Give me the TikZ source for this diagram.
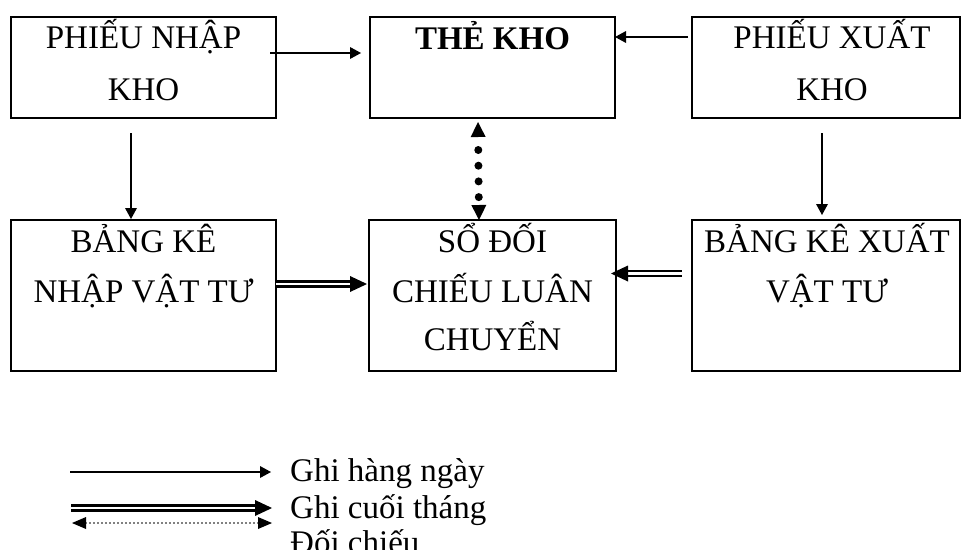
\documentclass[tikz,border=0pt]{standalone}
\usepackage{fontspec}
\setmainfont{Liberation Serif}
\usetikzlibrary{arrows.meta}
\begin{document}
\begin{tikzpicture}[x=1pt,y=-1pt,
  box/.style={draw, line width=2.6pt, rectangle, inner sep=0pt, outer sep=0pt, anchor=north west},
  txt/.style={anchor=base, inner sep=0pt, font=\fontsize{33}{40}\selectfont},
  legtxt/.style={anchor=base west, inner sep=0pt, font=\fontsize{33}{40}\selectfont},
  daily/.style={line width=2.4pt, -{Triangle[length=11pt,width=12pt,line width=0pt]}},
  monthly/.style={line width=2.5pt, double=white, double distance=2.6pt,
    -{Triangle[length=17pt,width=16pt,line width=0pt]}},
  check/.style={line width=8pt, line cap=round, dash pattern=on 0pt off 15.7pt, dash phase=2.7pt,
    {Triangle[length=15pt,width=15pt,line width=0pt]}-{Triangle[length=15pt,width=15pt,line width=0pt]}},
  checkleg/.style={line width=1.7pt, line cap=round, dash pattern=on 0pt off 4pt,
    {Triangle[length=14pt,width=12pt,line width=0pt]}-{Triangle[length=14pt,width=12pt,line width=0pt]}}
]
\useasboundingbox (0,0) rectangle (963,549);

% boxes
\node[box, minimum width=265pt, minimum height=101pt] (b1) at (11,17) {};
\node[box, minimum width=245pt, minimum height=101pt] (b2) at (370,17) {};
\node[box, minimum width=268pt, minimum height=101pt] (b3) at (692,17) {};
\node[box, minimum width=265pt, minimum height=151pt] (b4) at (11,220) {};
\node[box, minimum width=247pt, minimum height=151pt] (b5) at (369,220) {};
\node[box, minimum width=268pt, minimum height=151pt] (b6) at (692,220) {};

% box texts
\node[txt] (t1a) at (143.5,48) {PHIẾU NHẬP};
\node[txt] (t1b) at (143.5,100) {KHO};
\node[txt] (t2a) at (492.5,49) {\textbf{THẺ KHO}};
\node[txt] (t3a) at (832,48) {PHIẾU XUẤT};
\node[txt] (t3b) at (832,100) {KHO};
\node[txt] (t4a) at (143.5,252) {BẢNG KÊ};
\node[txt] (t4b) at (143.5,302) {NHẬP VẬT TƯ};
\node[txt] (t5a) at (492.5,252) {SỔ ĐỐI};
\node[txt] (t5b) at (492.5,302) {CHIẾU LUÂN};
\node[txt] (t5c) at (492.5,350) {CHUYỂN};
\node[txt] (t6a) at (827,252) {BẢNG KÊ XUẤT};
\node[txt] (t6b) at (827,302) {VẬT TƯ};

% daily entries
\draw[daily] ([xshift=-6pt,yshift=14.5pt]b1.east) -- ([xshift=-9pt,yshift=14.5pt]b2.west);
\draw[daily] ([xshift=-4pt,yshift=30.5pt]b3.west) -- ([yshift=30.5pt]b2.east);
\draw[daily] ([xshift=-12.5pt,yshift=-15pt]b1.south) -- ([xshift=-12.5pt,yshift=1pt]b4.north);
\draw[daily] ([xshift=-4pt,yshift=-15pt]b3.south) -- ([xshift=-4pt,yshift=5pt]b6.north);

% month-end entries
\draw[monthly] ([yshift=11.5pt]b4.east) -- ([xshift=-2pt,yshift=11.5pt]b4.east -| b5.west);
\draw[monthly] ([xshift=-10pt,yshift=22pt]b6.west) -- ([xshift=-5pt,yshift=22pt]b6.west -| b5.east);

% cross-check
\draw[check] ([xshift=-14.5pt,yshift=-4pt]b2.south) -- ([xshift=-13.5pt,yshift=0pt]b5.north);

% legend
\coordinate (l1a) at (70,472);  \coordinate (l1b) at (271,472);
\coordinate (l2a) at (71,508);  \coordinate (l2b) at (272,508);
\coordinate (l3a) at (72,523);  \coordinate (l3b) at (272,523);
\draw[daily] (l1a) -- (l1b);
\draw[monthly] (l2a) -- (l2b);
\draw[checkleg] (l3a) -- (l3b);
\node[legtxt] (g1) at (290,481) {Ghi hàng ngày};
\node[legtxt] (g2) at (290,518) {Ghi cuối tháng};
\node[legtxt] (g3) at (290,553) {Đối chiếu};
\end{tikzpicture}
\end{document}
